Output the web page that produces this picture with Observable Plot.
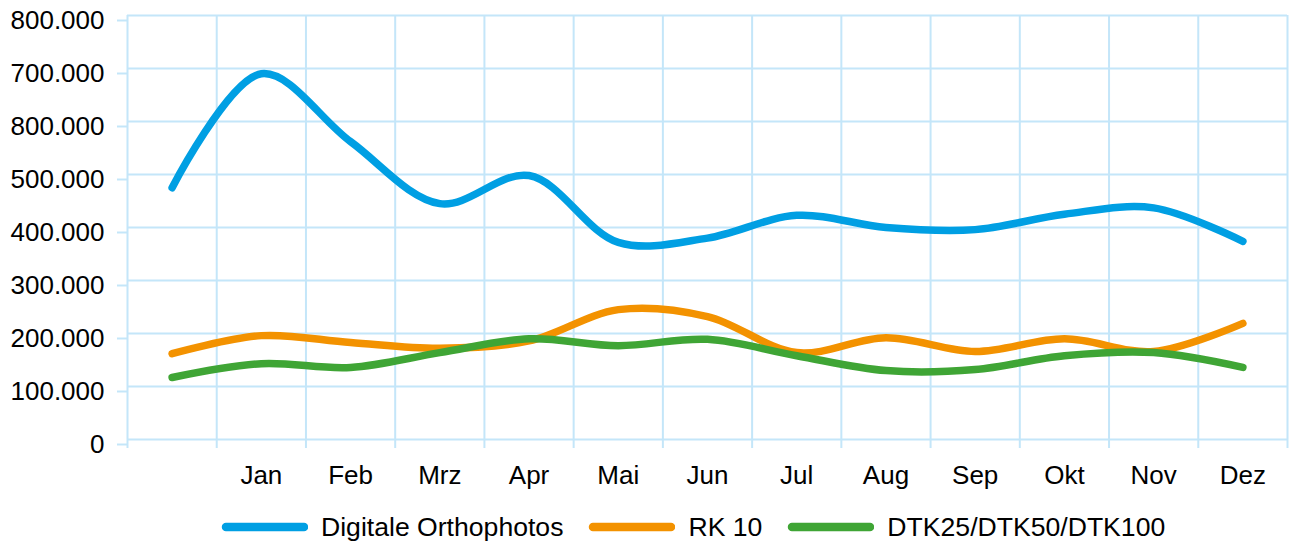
<!DOCTYPE html>
<html>
<head>
<meta charset="utf-8">
<script src="https://cdn.jsdelivr.net/npm/d3@7"></script>
<script src="https://cdn.jsdelivr.net/npm/@observablehq/plot@0.6"></script>
<style>
  html, body { margin: 0; padding: 0; background: #fff; }
  body { width: 1295px; height: 542px; overflow: hidden; font-family: "Liberation Sans", Arial, Helvetica, sans-serif; }
  #legend { display: flex; align-items: center; height: 54px; padding-left: 218px; font-size: 26.6px; color: #000; white-space: nowrap; }
  #legend .item { display: flex; align-items: center; }
  #legend .item + .item { margin-left: 22px; }
  #legend svg { margin-right: 13px; }
</style>
</head>
<body>
<div id="chart"></div>
<div id="legend"></div>
<script>
// Categories (first band is unlabeled)
const months = ["", "Jan", "Feb", "Mrz", "Apr", "Mai", "Jun", "Jul", "Aug", "Sep", "Okt", "Nov", "Dez"];
// Series values
const ortho = [475000, 690000, 562000, 445000, 498000, 372000, 380000, 423000, 400000, 396000, 425000, 437000, 374000];
const rk10  = [162000, 196000, 183000, 172000, 186000, 245000, 232000, 164000, 192000, 166000, 190000, 166000, 219000];
const dtk   = [117000, 143000, 136000, 164000, 190000, 177000, 189000, 158000, 130000, 132000, 158000, 164000, 136000];
// Series names and colours
const seriesNames = ["Digitale Orthophotos", "RK 10", "DTK25/DTK50/DTK100"];
const seriesColors = ["#009fe3", "#f39200", "#3fa535"];
// Y tick values and their labels (as printed in the original)
const yTicks = [0, 100000, 200000, 300000, 400000, 500000, 600000, 700000, 800000];
const yTickLabels = ["0", "100.000", "200.000", "300.000", "400.000", "500.000", "800.000", "700.000", "800.000"];

const seriesValues = [ortho, rk10, dtk];
const data = seriesValues.flatMap((vals, s) =>
  vals.map((v, i) => ({ idx: i + 0.5, month: months[i], value: v, series: seriesNames[s] })));

const gridColor = "#c4e6f9";
const bandEdges = d3.range(months.length + 1);
const labelPos = months.map((m, i) => i + 0.5).filter((_, i) => months[i] !== "");

const plot = Plot.plot({
  width: 1295,
  height: 500,
  marginTop: 15,
  marginLeft: 127,
  marginRight: 8,
  marginBottom: 61,
  style: { fontFamily: "'Liberation Sans', Arial, Helvetica, sans-serif", fontSize: "26px", color: "#000", background: "#fff" },
  x: { type: "linear", domain: [0, months.length], axis: null },
  y: { domain: [0, 800000], axis: null },
  color: { domain: seriesNames, range: seriesColors },
  marks: [
    Plot.gridX(bandEdges, { stroke: gridColor, strokeOpacity: 1, strokeWidth: 2 }),
    Plot.gridY(yTicks, { stroke: gridColor, strokeOpacity: 1, strokeWidth: 2 }),
    Plot.axisX(bandEdges, { tickSize: 9, tickFormat: () => "", label: null, stroke: gridColor, strokeOpacity: 1, strokeWidth: 2 }),
    Plot.axisY(yTicks, { tickSize: 10, tickPadding: 13, label: null, stroke: gridColor, strokeOpacity: 1, strokeWidth: 2,
      tickFormat: (d) => yTickLabels[yTicks.indexOf(d)], fill: "#000", dy: 5, fontSize: 26 }),
    Plot.axisX(labelPos, { tickSize: 0, tickPadding: 26, label: null, fill: "#000", fontSize: 26,
      tickFormat: (d) => months[Math.floor(d)] }),
    ...seriesNames.map((name) =>
      Plot.lineY(data.filter((d) => d.series === name), {
        x: "idx", y: "value", stroke: "series", strokeWidth: 7.5,
        strokeLinecap: "round", strokeLinejoin: "round", curve: "catmull-rom"
      }))
  ]
});
document.getElementById("chart").appendChild(plot);

// Legend
const legend = document.getElementById("legend");
seriesNames.forEach((name, i) => {
  const item = document.createElement("div");
  item.className = "item";
  item.innerHTML = `<svg width="90" height="12"><line x1="8" y1="6" x2="86" y2="6" stroke="${seriesColors[i]}" stroke-width="8.5" stroke-linecap="round"/></svg><span>${name}</span>`;
  legend.appendChild(item);
});
</script>
</body>
</html>
